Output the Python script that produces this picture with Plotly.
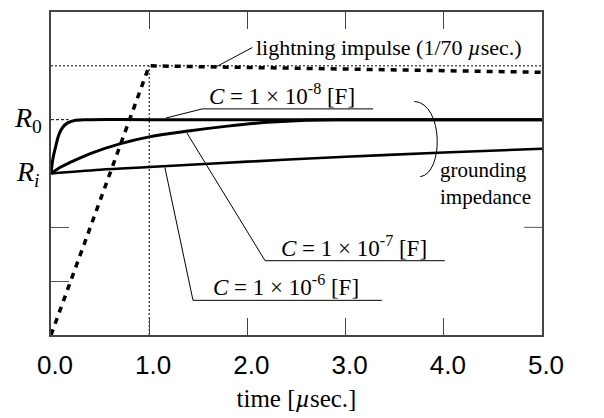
import plotly.graph_objects as go

# ---- data (y in arbitrary units: Ri=3, R0=4, Imax=5) ----
impulse_t = [0.0, 1.0, 5.0]
impulse_v = [0.0, 5.0, 4.88]

c8_t = [0.0, 0.02, 0.05, 0.08, 0.12, 0.17, 0.25, 0.4, 1.0, 5.0]
c8_v = [3.0, 3.28, 3.52, 3.72, 3.86, 3.94, 3.99, 4.0, 4.0, 4.0]

c7_t = [0.0, 0.1, 0.2, 0.4, 0.7, 1.0, 1.4, 1.8, 2.2, 2.6, 3.0, 5.0]
c7_v = [3.0, 3.12, 3.21, 3.37, 3.55, 3.68, 3.79, 3.88, 3.95, 3.99, 4.0, 4.0]

c6_t = [0.0, 0.5, 1.0, 2.0, 3.0, 4.0, 5.0]
c6_v = [3.0, 3.07, 3.12, 3.22, 3.31, 3.39, 3.46]

x_ticks = [0, 1, 2, 3, 4, 5]
x_ticklabels = ["0.0", "1.0", "2.0", "3.0", "4.0", "5.0"]
R_i, R_0, I_max = 3.0, 4.0, 5.0

SERIF = "Liberation Serif"
SANS = "Liberation Sans"

fig = go.Figure()

# reference lines
fig.add_trace(go.Scatter(x=[0, 5], y=[I_max, I_max], mode="lines",
                         line=dict(color="black", width=1, dash="2px,2px"), hoverinfo="skip"))
fig.add_trace(go.Scatter(x=[1, 1], y=[0, I_max], mode="lines",
                         line=dict(color="black", width=1, dash="2px,2px"), hoverinfo="skip"))
fig.add_trace(go.Scatter(x=[0, 0.18], y=[R_0, R_0], mode="lines",
                         line=dict(color="black", width=1, dash="3px,2px"), hoverinfo="skip"))

# curves
fig.add_trace(go.Scatter(x=c6_t, y=c6_v, mode="lines", line=dict(color="black", width=2.6, shape="spline")))
fig.add_trace(go.Scatter(x=c7_t, y=c7_v, mode="lines", line=dict(color="black", width=3, shape="spline")))
fig.add_trace(go.Scatter(x=c8_t, y=c8_v, mode="lines", line=dict(color="black", width=3, shape="spline")))
fig.add_trace(go.Scatter(x=impulse_t, y=impulse_v, mode="lines",
                         line=dict(color="black", width=3.5, dash="6px,6px")))

lw = dict(color="black", width=1)
shapes = [
    # leader lines / underlines
    dict(type="path", path="M 2.05,5.34 L 1.69,4.99", line=lw),
    dict(type="path", path="M 3.28,4.20 L 1.54,4.20 L 1.17,4.03", line=lw),
    dict(type="path", path="M 4.01,1.38 L 2.18,1.38 L 1.385,3.75", line=lw),
    dict(type="path", path="M 3.37,0.644 L 1.446,0.644 L 1.16,3.11", line=lw),
    # bracket
    dict(type="path", path="M 3.70,4.34 C 4.00,4.30 4.00,3.00 3.76,2.94", line=lw),
    # right-side tick
    dict(type="line", x0=4.82, x1=5, y0=2, y1=2, line=dict(color="#555", width=1)),
]

ann = []
def A(x, y, text, size=21, **kw):
    d = dict(x=x, y=y, text=text, showarrow=False, font=dict(family=SERIF, size=size, color="black"))
    d.update(kw)
    ann.append(d)

A(2.07, 5.34, "lightning impulse (1/70 <i>µ</i>sec.)", size=22, xanchor="left", yanchor="middle")
A(5.03, 5.06, "<i>I</i><sub>max</sub>", size=25, xanchor="left", yanchor="middle")
A(2.35, 4.20, "<i>C</i> = 1 × 10<sup>-8</sup> [F]", size=23, xanchor="center", yanchor="bottom", yshift=-2)
A(3.09, 1.38, "<i>C</i> = 1 × 10<sup>-7</sup> [F]", size=23, xanchor="center", yanchor="bottom", yshift=-2)
A(2.39, 0.644, "<i>C</i> = 1 × 10<sup>-6</sup> [F]", size=23, xanchor="center", yanchor="bottom", yshift=-2)
A(3.94, 2.82, "grounding<br>impedance", size=21, xanchor="left", yanchor="middle", align="left")
A(0, R_0, "<i>R</i><sub>0</sub>", size=28, xanchor="right", yanchor="middle", xshift=-7)
A(0, R_i, "<i>R</i><sub><i>i</i></sub>", size=28, xanchor="right", yanchor="middle", xshift=-9)

fig.update_layout(
    width=604, height=418,
    margin=dict(l=51, r=62, t=10, b=82),
    paper_bgcolor="white", plot_bgcolor="white",
    showlegend=False,
    shapes=shapes, annotations=ann,
    xaxis=dict(range=[0, 5], tickvals=x_ticks, ticktext=x_ticklabels,
               ticks="inside", ticklen=17, tickcolor="#444", tickwidth=1,
               showline=True, linecolor="#444", linewidth=1.5, mirror="ticks",
               showgrid=False, zeroline=False,
               tickfont=dict(family=SANS, size=26, color="black"),
               ticklabelshift=4, ticklabelstandoff=6,
               title=dict(text="time [<i>µ</i>sec.]", font=dict(family=SERIF, size=25, color="black"), standoff=11)),
    yaxis=dict(range=[0, 6], tickvals=[1, 2], showticklabels=False,
               ticks="inside", ticklen=18, tickcolor="#555", tickwidth=1,
               showline=True, linecolor="#444", linewidth=1.5, mirror=True,
               showgrid=False, zeroline=False),
)

fig.write_html("out.html")
